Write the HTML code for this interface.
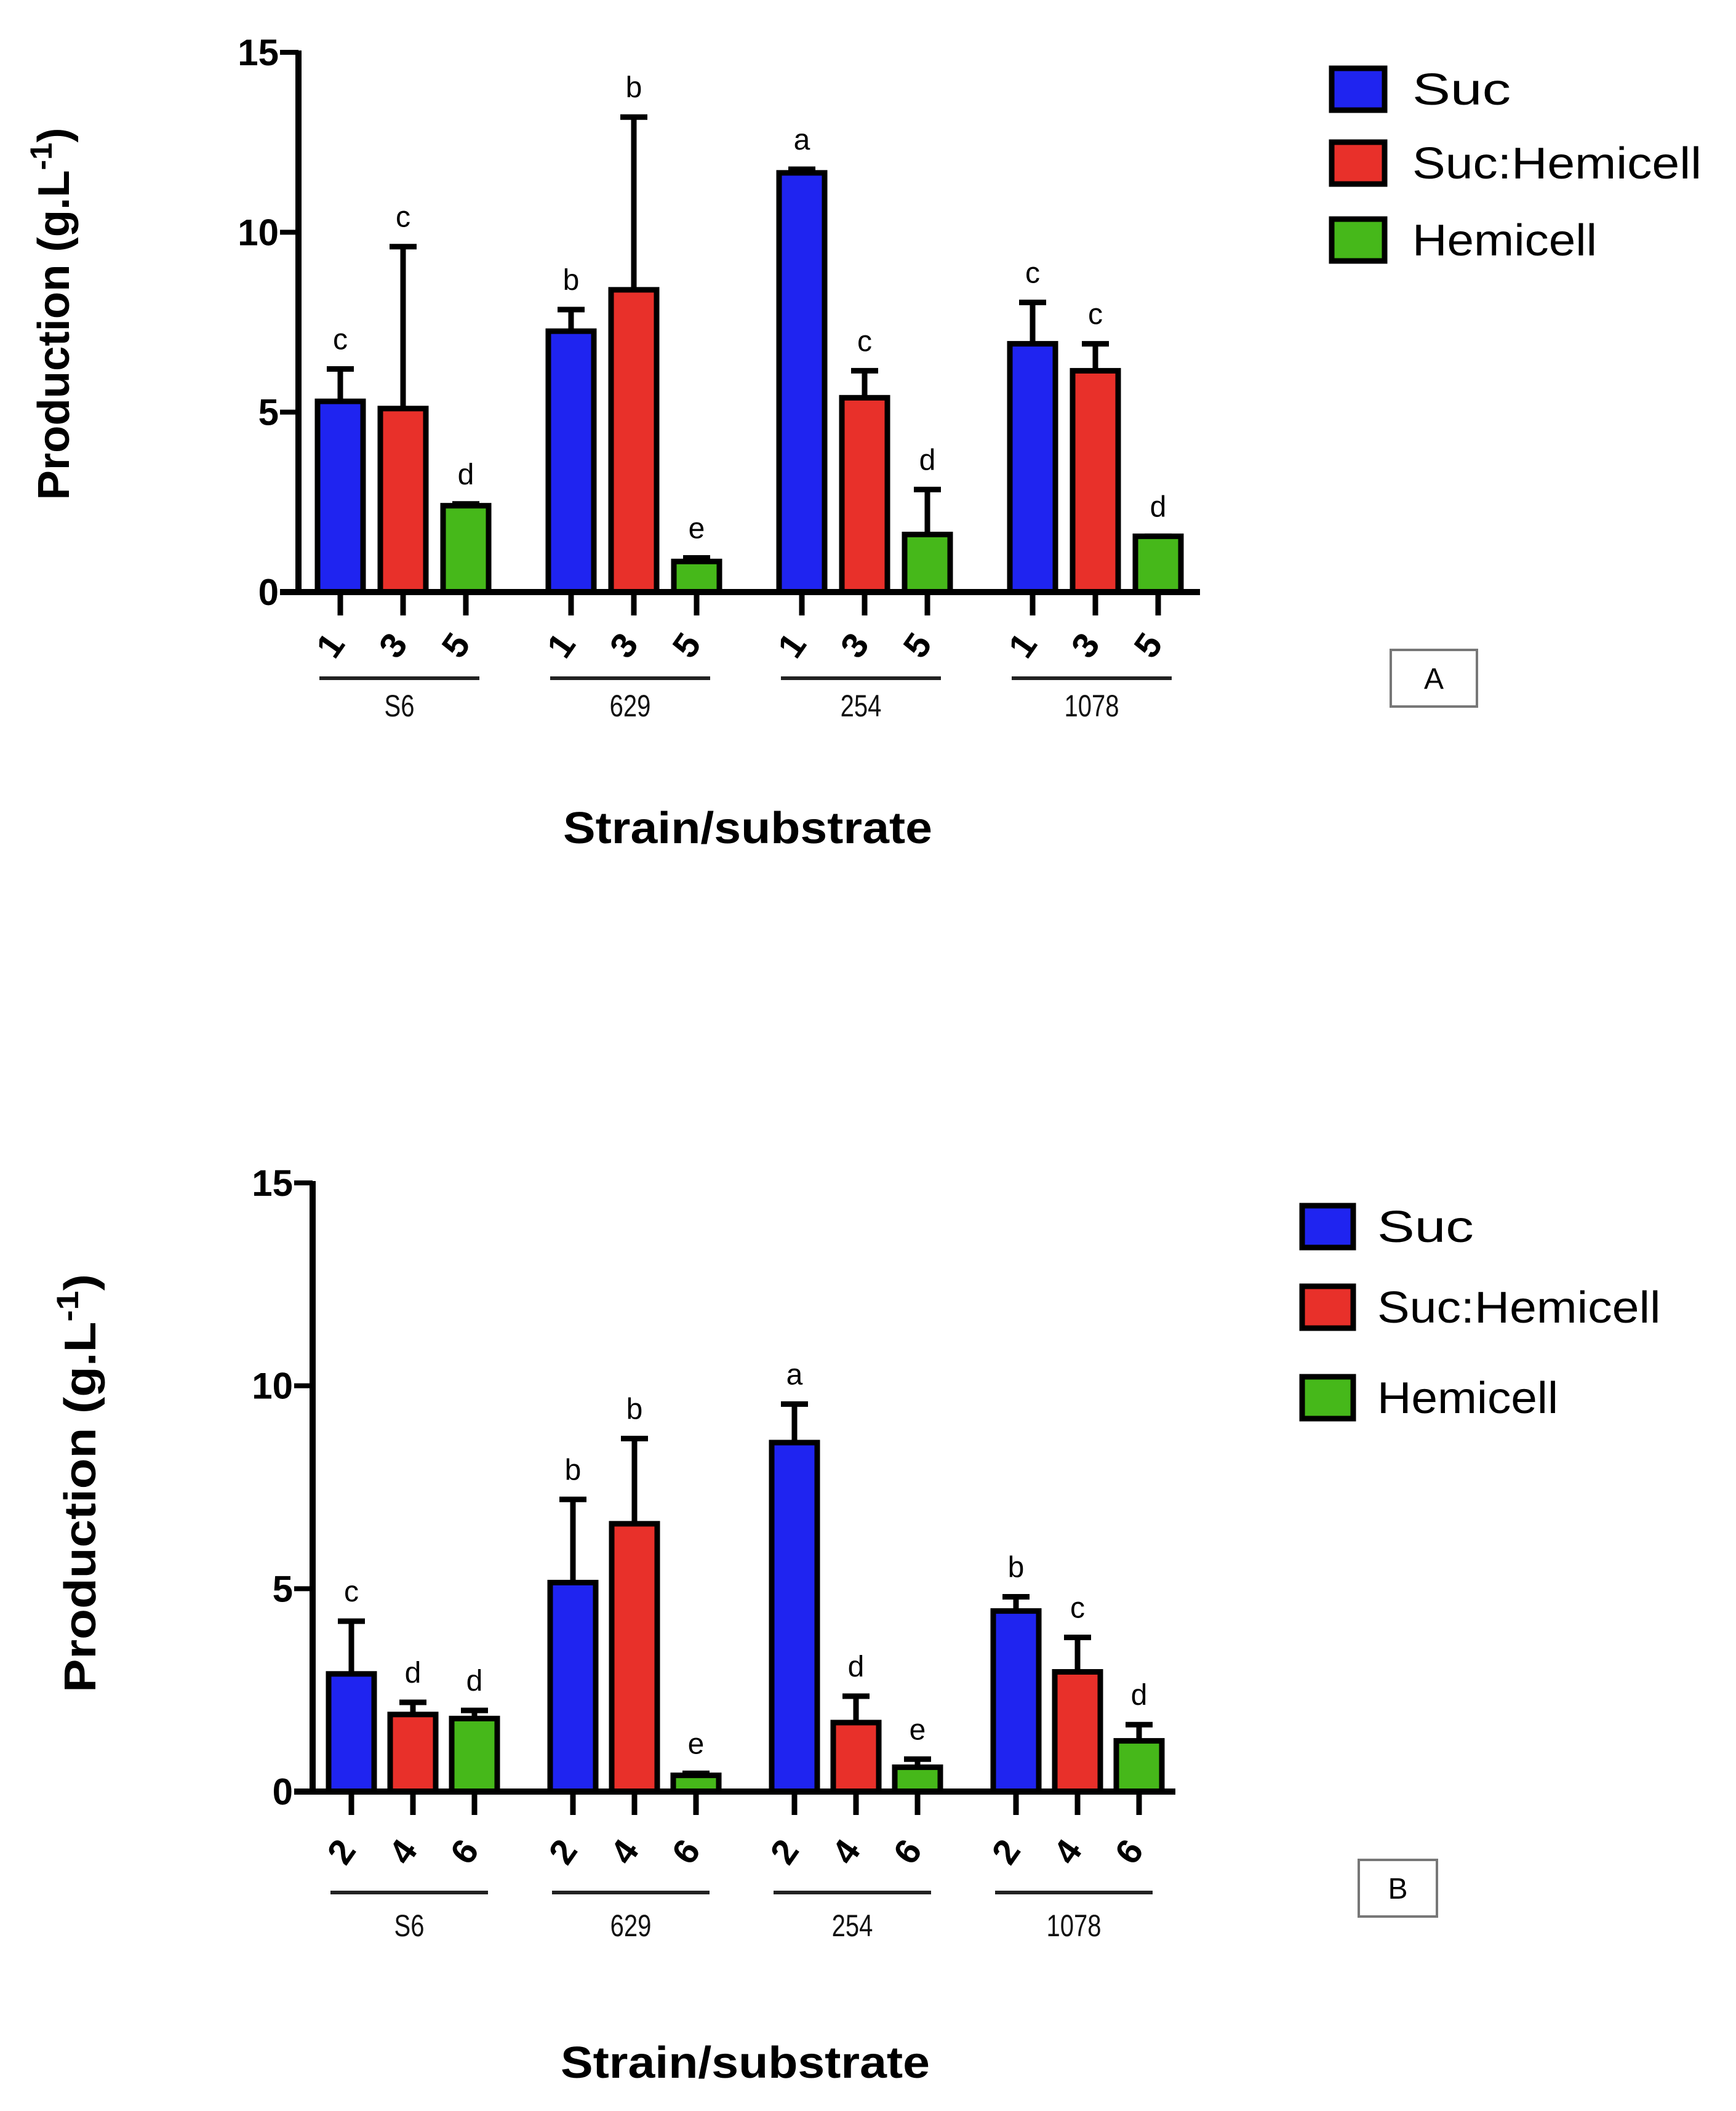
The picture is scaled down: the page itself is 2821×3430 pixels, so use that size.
<!DOCTYPE html>
<html><head><meta charset="utf-8"><style>
html,body{margin:0;padding:0;background:#fff;}
svg{display:block;}
text{font-family:"Liberation Sans",sans-serif;}
</style></head><body>
<svg id="chart" width="2821" height="3430" viewBox="0 0 2821 3430" xmlns="http://www.w3.org/2000/svg">
<rect x="0" y="0" width="2821" height="3430" fill="#fff"/>
<g id="pa"></g>
<g id="pb"></g>
</svg>
<script>
const groups = ["S6","629","254","1078"];
const series = ["Suc","Suc:Hemicell","Hemicell"];
const colors = ["#1f24f0","#e8302a","#46b81a"];
const yTicks = [0,5,10,15];
const tickLabelsA = ["1","3","5"];
const tickLabelsB = ["2","4","6"];
const valsA = [[5.3,5.1,2.4],[7.25,8.4,0.85],[11.65,5.4,1.6],[6.9,6.15,1.55]];
const errA  = [[6.2,9.6,2.45],[7.85,13.2,0.95],[11.75,6.15,2.85],[8.05,6.9,1.55]];
const letA  = [["c","c","d"],["b","b","e"],["a","c","d"],["c","c","d"]];
const valsB = [[2.9,1.9,1.8],[5.15,6.6,0.4],[8.6,1.7,0.6],[4.45,2.95,1.25]];
const errB  = [[4.2,2.2,2.0],[7.2,8.7,0.45],[9.55,2.35,0.8],[4.8,3.8,1.65]];
const letB  = [["c","d","d"],["b","b","e"],["a","d","e"],["b","c","d"]];
const NS="http://www.w3.org/2000/svg";
function mk(parent,tag,attrs,txt){const e=document.createElementNS(NS,tag);for(const k in attrs)e.setAttribute(k,attrs[k]);if(txt!==undefined)e.textContent=txt;parent.appendChild(e);return e;}
function panel(g,cfg,vals,errs,lets,tl,tag){
  const y=v=>cfg.y0-(cfg.y0-cfg.y15)*v/15;
  const bx=(gi,si)=>cfg.b0+gi*cfg.gstep+si*cfg.sstep;
  for(let gi=0;gi<groups.length;gi++){for(let si=0;si<3;si++){
    const cx=bx(gi,si), v=vals[gi][si], e=errs[gi][si];
    const el=mk(g,"line",{x1:cx,x2:cx,y1:y(v),y2:y(e),stroke:"#000","stroke-width":9});
    
    
    const cap=mk(g,"line",{x1:cx-22,x2:cx+22,y1:y(e),y2:y(e),stroke:"#000","stroke-width":9});
    
    
    const r=mk(g,"rect",{x:cx-37,y:y(v),width:74,height:y(0)-y(v),fill:colors[si],stroke:"#000","stroke-width":9});
    
    
    const t=mk(g,"text",{x:cx,y:y(e)-32,"text-anchor":"middle","font-size":48},lets[gi][si]);
    
    
    const tk=mk(g,"line",{x1:cx,x2:cx,y1:cfg.y0,y2:cfg.y0+38,stroke:"#000","stroke-width":9});
    
    
    const lb=mk(g,"text",{x:0,y:0,"text-anchor":"middle","font-size":58,"font-weight":"bold",transform:`translate(${cx},${cfg.tly}) rotate(-55)`},tl[si]);
    
    
  }
    const gl=mk(g,"line",{x1:bx(gi,0)-34,x2:bx(gi,2)+22,y1:cfg.gly,y2:cfg.gly,stroke:"#222","stroke-width":6});
    
    
    const gn=mk(g,"text",{x:bx(gi,1)-6,y:cfg.gny,"text-anchor":"middle","font-size":50,transform:`translate(${(bx(gi,1)-6)*0.2},0) scale(0.8,1)`,fill:"#111"},groups[gi]);
    
    
  }
  const ya=mk(g,"line",{x1:cfg.ax,x2:cfg.ax,y1:cfg.y15-3,y2:cfg.y0+5,stroke:"#000","stroke-width":10});
  
  
  const xa=mk(g,"line",{x1:cfg.ax-30,x2:cfg.xend,y1:cfg.y0,y2:cfg.y0,stroke:"#000","stroke-width":10});
  
  
  yTicks.forEach(tv=>{
    const l=mk(g,"line",{x1:cfg.ax-30,x2:cfg.ax,y1:y(tv),y2:y(tv),stroke:"#000","stroke-width":8});
    
    
    const t=mk(g,"text",{x:cfg.ax-32,y:y(tv)+21,"text-anchor":"end","font-size":60,"font-weight":"bold"},String(tv));
    
    
  });
  const yt=mk(g,"text",{x:0,y:0,"text-anchor":"middle","font-size":72,"font-weight":"bold",transform:`translate(${cfg.ytx},${cfg.yty}) rotate(-90)`,textLength:cfg.ytl,lengthAdjust:"spacingAndGlyphs"});
  
  
  mk(yt,"tspan",{},"Production (g.L");
  mk(yt,"tspan",{dy:-28,"font-size":50},"-1");
  mk(yt,"tspan",{dy:28},")");
  const xt=mk(g,"text",{x:cfg.xtx,y:cfg.xty,"text-anchor":"middle","font-size":72,"font-weight":"bold",textLength:600,lengthAdjust:"spacingAndGlyphs"},"Strain/substrate");
  
  
  series.forEach((s,i)=>{
    const cy=cfg.legY[i];
    const r=mk(g,"rect",{x:cfg.legX,y:cy-34,width:cfg.legW,height:68,fill:colors[i],stroke:"#000","stroke-width":9});
    
    
    const t=mk(g,"text",{x:cfg.legTX,y:cy+25,"font-size":72,textLength:[160,470,300][i]*cfg.legS,lengthAdjust:"spacingAndGlyphs"},s);
    
    
  });
  const b=mk(g,"rect",{x:cfg.bx,y:cfg.by,width:cfg.bw,height:cfg.bh,fill:"#fff",stroke:"#777","stroke-width":4});
  
  
  const bt=mk(g,"text",{x:cfg.bx+cfg.bw/2,y:cfg.by+cfg.bh/2+17,"text-anchor":"middle","font-size":48},tag);
  
  
}
panel(document.getElementById("pa"),{y0:962,y15:85,ax:485,xend:1950,b0:553,gstep:375,sstep:102,tly:1060,gly:1102,gny:1164,ytx:112,yty:510,ytl:605,xtx:1215,xty:1370,legX:2164,legW:86,legY:[145,265,390],legTX:2295,legS:1,bx:2260,by:1056,bw:140,bh:92},valsA,errA,letA,tickLabelsA,"A");
panel(document.getElementById("pb"),{y0:2911,y15:1922,ax:508,xend:1910,b0:571,gstep:360,sstep:100,tly:3020,gly:3075,gny:3146,ytx:155,yty:2410,ytl:680,xtx:1211,xty:3376,legX:2116,legW:83,legY:[1993,2124,2271],legTX:2238,legS:0.98,bx:2208,by:3022,bw:127,bh:92},valsB,errB,letB,tickLabelsB,"B");
</script>
</body></html>
